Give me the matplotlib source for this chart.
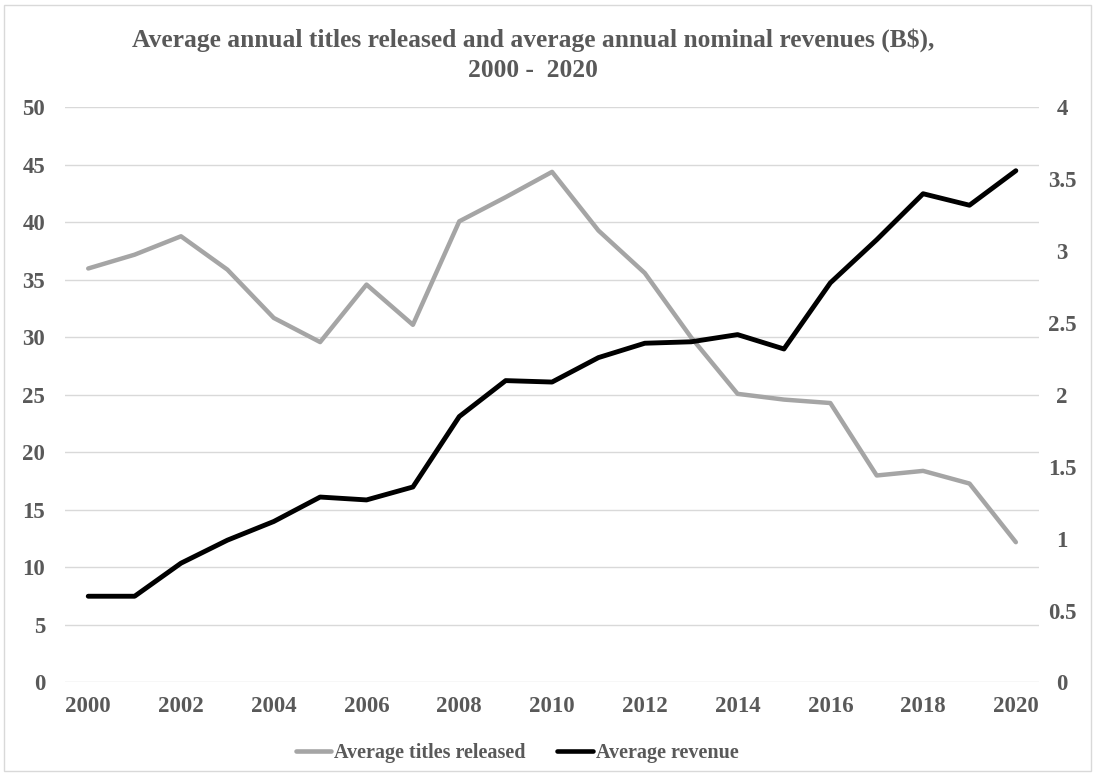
import matplotlib
matplotlib.use("Agg")
import matplotlib.pyplot as plt
from matplotlib.patches import Rectangle
from matplotlib.lines import Line2D

years = list(range(2000, 2021))
titles_released = [36.0, 37.2, 38.8, 35.9, 31.7, 29.6, 34.6, 31.1, 40.1, 42.2, 44.4,
                   39.3, 35.6, 30.0, 25.1, 24.6, 24.3, 18.0, 18.4, 17.3, 12.2]
revenue = [0.60, 0.60, 0.83, 0.99, 1.12, 1.29, 1.27, 1.36, 1.85, 2.10, 2.09,
           2.26, 2.36, 2.37, 2.42, 2.32, 2.78, 3.08, 3.40, 3.32, 3.56]
left_ticks = list(range(0, 55, 5))
right_ticks = [0, 0.5, 1, 1.5, 2, 2.5, 3, 3.5, 4]
right_labels = ["0", "0.5", "1", "1.5", "2", "2.5", "3", "3.5", "4"]
x_ticks = list(range(2000, 2021, 2))

plt.rcParams['font.family'] = ['Liberation Serif', 'DejaVu Serif']
plt.rcParams['font.weight'] = 'bold'
TEXT = '#595959'
GRAY = '#A5A5A5'
TICK_SIZE = 16.5

fig = plt.figure(figsize=(10.95, 7.76), dpi=100)
ax = fig.add_axes([0.0594, 0.1205, 0.8895, 0.741])
ax2 = ax.twinx()

ax.set_xlim(1999.5, 2020.5)
ax.set_ylim(0, 50)
ax2.set_ylim(0, 4)

for y in left_ticks:
    ax.axhline(y, color='#D9D9D9', lw=1.0, zorder=0)

ax.plot(years, titles_released, color=GRAY, lw=3.2, solid_capstyle='round', zorder=2)
ax2.plot(years, revenue, color='black', lw=3.5, solid_capstyle='round', zorder=3)

for a in (ax, ax2):
    for s in a.spines.values():
        s.set_visible(False)

ax.set_yticks(left_ticks)
ax.set_yticklabels([str(v) for v in left_ticks])
ax2.set_yticks(right_ticks)
ax2.set_yticklabels(right_labels)
ax.set_xticks(x_ticks)
ax.set_xticklabels([str(v) for v in x_ticks])

ax.tick_params(axis='both', length=0, labelsize=TICK_SIZE, labelcolor=TEXT)
ax.tick_params(axis='y', pad=14.4)
ax.tick_params(axis='x', pad=10)
ax2.tick_params(axis='y', length=0, labelsize=TICK_SIZE, labelcolor=TEXT, pad=16.5)
for lbl in ax2.get_yticklabels():
    lbl.set_horizontalalignment('center')
ax2.set_zorder(ax.get_zorder() + 1)

fig.text(533 / 1095, 0.929,
         "Average annual titles released and average annual nominal revenues (B$),\n2000 -  2020",
         ha='center', va='center', fontsize=18.4, fontweight='bold', color=TEXT,
         linespacing=1.38)

handles = [Line2D([], [], color=GRAY, lw=3.3, solid_capstyle='round'),
           Line2D([], [], color='black', lw=3.3, solid_capstyle='round')]
fig.legend(handles, ["Average titles released", "Average revenue"], loc='center',
           bbox_to_anchor=(517 / 1095, 0.0296), ncol=2, frameon=False, fontsize=14.5,
           labelcolor=TEXT, handlelength=1.74, handletextpad=0.15, columnspacing=1.6,
           borderpad=0, borderaxespad=0)

fig.patches.append(Rectangle((0.004, 0.006), 0.992, 0.988, transform=fig.transFigure,
                             fill=False, edgecolor='#D9D9D9', lw=1.0))

fig.savefig("out.png", dpi=100, facecolor='white')
